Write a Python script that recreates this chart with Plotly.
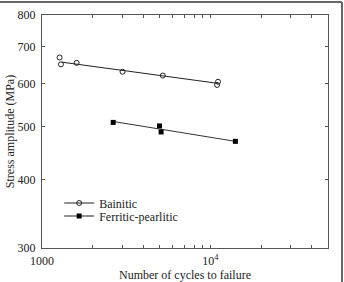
import numpy as np
import plotly.graph_objects as go

# Data
bain_x = [1272, 1296, 1606, 3010, 5220, 10958, 11110]
bain_y = [669, 650, 654, 630, 620, 596, 604]
bain_fit_x = [1309, 11066]
bain_fit_y = [656, 600]

fp_x = [2648, 4990, 5100, 14090]
fp_y = [509, 501.5, 489, 470]
fp_fit_x = [2648, 14090]
fp_fit_y = [511, 470]

series_names = ["Bainitic", "Ferritic-pearlitic"]
y_ticks = [300, 400, 500, 600, 700, 800]
x_ticks = [1000, 10000]
x_ticktext = ["1000", "10<sup>4</sup>"]
x_minor = [2000, 3000, 4000, 5000, 6000, 7000, 8000, 9000, 20000, 30000, 40000]

FAM = "Liberation Serif"
LC = "#222222"
fig = go.Figure()

# Bainitic
fig.add_trace(go.Scatter(x=bain_fit_x, y=bain_fit_y, mode="lines",
                         line=dict(color=LC, width=1), showlegend=False))
fig.add_trace(go.Scatter(x=bain_x, y=bain_y, mode="markers",
                         marker=dict(symbol="circle-open", size=5, color=LC, line=dict(width=1)),
                         showlegend=False))
fig.add_trace(go.Scatter(x=[None], y=[None], mode="lines+markers", name=series_names[0],
                         legend="legend",
                         line=dict(color=LC, width=1),
                         marker=dict(symbol="circle-open", size=5, color=LC, line=dict(width=1))))
# Ferritic-pearlitic
fig.add_trace(go.Scatter(x=fp_fit_x, y=fp_fit_y, mode="lines",
                         line=dict(color="#333333", width=1), showlegend=False))
fig.add_trace(go.Scatter(x=fp_x, y=fp_y, mode="markers",
                         marker=dict(symbol="square", size=5, color="black"),
                         showlegend=False))
fig.add_trace(go.Scatter(x=[None], y=[None], mode="lines+markers", name=series_names[1],
                         legend="legend2",
                         line=dict(color=LC, width=1),
                         marker=dict(symbol="square", size=5, color="black")))

axis_common = dict(showgrid=False, zeroline=False, showline=True, linecolor="#555555",
                   linewidth=1, mirror="all", ticks="inside", ticklen=3, automargin=False,
                   tickcolor="#555555", tickfont=dict(family=FAM, size=12, color="#222"))

fig.update_xaxes(type="log", range=[3, np.log10(50000)], tickvals=x_ticks, ticktext=x_ticktext,
                 minor=dict(tickvals=x_minor, ticks="inside", ticklen=3, tickcolor="#555555"),
                 ticklabelstandoff=2,
                 title=dict(text="Number of cycles to failure", font=dict(family=FAM, size=12, color="#222"), standoff=3),
                 **axis_common)
fig.update_yaxes(type="log", range=[np.log10(300), np.log10(800)], tickvals=y_ticks,
                 ticklabelstandoff=3,
                 title=dict(text="Stress amplitude (MPa)", font=dict(family=FAM, size=12, color="#222"), standoff=0),
                 **axis_common)

leg_common = dict(xanchor="left", yanchor="middle", bgcolor="rgba(0,0,0,0)",
                  font=dict(family=FAM, size=12, color="#222"), itemwidth=30)
fig.update_layout(
    width=344, height=282,
    margin=dict(l=42, r=16, t=15, b=34),
    paper_bgcolor="white", plot_bgcolor="white",
    font=dict(family=FAM, size=12, color="#222"),
    legend=dict(x=0.06, y=1 - (203 - 15) / 233, **leg_common),
    legend2=dict(x=0.06, y=1 - (216 - 15) / 233, **leg_common),
    shapes=[
        dict(type="line", xref="paper", yref="paper", x0=-42/286, x1=(344-2-42)/286,
             y0=1+13/233, y1=1+13/233, line=dict(color="#666", width=2)),
        dict(type="line", xref="paper", yref="paper", x0=(342-42)/286, x1=(342-42)/286,
             y0=1+13/233, y1=-34/233, line=dict(color="#666", width=2)),
    ],
)

fig.write_html("out.html")
